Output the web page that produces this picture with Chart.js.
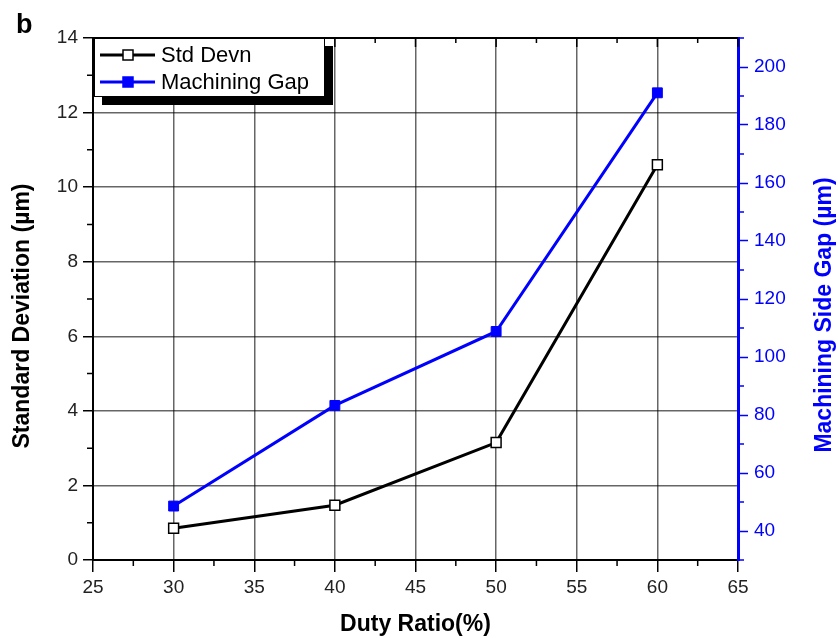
<!DOCTYPE html>
<html>
<head>
<meta charset="utf-8">
<script src="https://cdn.jsdelivr.net/npm/chart.js@4.4.1/dist/chart.umd.min.js"></script>
<style>
  body { margin: 0; background: #fff; }
  #wrap { width: 838px; height: 638px; position: relative; }
</style>
</head>
<body>
<div id="wrap"><canvas id="chart"></canvas></div>
<script>
// data
const dutyRatio = [30, 40, 50, 60];
const stdDevn = [0.85, 1.47, 3.15, 10.6];
const machiningGap = [48.6, 83.3, 108.8, 191.1];

// axis ticks
const xTicks = [25, 30, 35, 40, 45, 50, 55, 60, 65];
const xMinorTicks = [27.5, 32.5, 37.5, 42.5, 47.5, 52.5, 57.5, 62.5];
const leftTicks = [0, 2, 4, 6, 8, 10, 12, 14];
const leftMinorTicks = [1, 3, 5, 7, 9, 11, 13];
const rightTicks = [40, 60, 80, 100, 120, 140, 160, 180, 200];
const rightMinorTicks = [30, 50, 70, 90, 110, 130, 150, 170, 190, 210];

const BLUE = '#0000ff';
const FONT = "'Liberation Sans', Arial, Helvetica, sans-serif";
Chart.defaults.font.family = FONT;

// Extra drawing: minor ticks, top frame, titles, legend
const decor = {
    id: 'decor',
    afterDraw(chart) {
        const ctx = chart.ctx;
        const area = chart.chartArea;
        const x = chart.scales.x, y = chart.scales.y, y1 = chart.scales.y1;
        ctx.save();

        // top frame with inward ticks
        ctx.strokeStyle = '#000';
        ctx.lineWidth = 2;
        ctx.beginPath();
        ctx.moveTo(area.left, area.top);
        ctx.lineTo(area.right, area.top);
        ctx.stroke();
        ctx.lineWidth = 1.5;
        ctx.beginPath();
        xTicks.forEach(v => { const px = x.getPixelForValue(v); ctx.moveTo(px, area.top); ctx.lineTo(px, area.top + 9); });
        xMinorTicks.forEach(v => { const px = x.getPixelForValue(v); ctx.moveTo(px, area.top); ctx.lineTo(px, area.top + 5); });
        // bottom minor ticks
        xMinorTicks.forEach(v => { const px = x.getPixelForValue(v); ctx.moveTo(px, area.bottom); ctx.lineTo(px, area.bottom + 6); });
        // left minor ticks
        leftMinorTicks.forEach(v => { const py = y.getPixelForValue(v); ctx.moveTo(area.left, py); ctx.lineTo(area.left - 6, py); });
        ctx.stroke();
        // right minor ticks
        ctx.strokeStyle = BLUE;
        ctx.beginPath();
        rightMinorTicks.forEach(v => { const py = y1.getPixelForValue(v); ctx.moveTo(area.right, py); ctx.lineTo(area.right + 6, py); });
        ctx.stroke();

        // titles
        ctx.fillStyle = '#000';
        ctx.font = 'bold 27px ' + FONT;
        ctx.textAlign = 'left';
        ctx.textBaseline = 'alphabetic';
        ctx.fillText('b', 16, 33);

        ctx.font = 'bold 23px ' + FONT;
        ctx.textAlign = 'center';
        ctx.textBaseline = 'middle';
        ctx.fillText('Duty Ratio(%)', (area.left + area.right) / 2, 625);

        ctx.save();
        ctx.translate(23, 316);
        ctx.rotate(-Math.PI / 2);
        ctx.fillText('Standard Deviation (\u00b5m)', 0, 0);
        ctx.restore();

        ctx.save();
        ctx.fillStyle = BLUE;
        ctx.translate(825, 315);
        ctx.rotate(-Math.PI / 2);
        ctx.fillText('Machining Side Gap (\u00b5m)', 0, 0);
        ctx.restore();

        // legend box with shadow
        const bx = area.left + 1, by = area.top, bw = 231, bh = 59;
        ctx.fillStyle = '#000';
        ctx.fillRect(bx + 8, by + 8, bw, bh);
        ctx.fillStyle = '#fff';
        ctx.fillRect(bx, by, bw, bh);
        ctx.strokeStyle = '#000';
        ctx.lineWidth = 1;
        ctx.strokeRect(bx + 0.5, by + 0.5, bw - 1, bh - 1);

        const items = [
            { label: 'Std Devn', color: '#000', fill: '#fff', yy: by + 17 },
            { label: 'Machining Gap', color: BLUE, fill: BLUE, yy: by + 44 }
        ];
        items.forEach(it => {
            ctx.strokeStyle = it.color;
            ctx.lineWidth = 3;
            ctx.beginPath();
            ctx.moveTo(bx + 6, it.yy);
            ctx.lineTo(bx + 61, it.yy);
            ctx.stroke();
            ctx.fillStyle = it.fill;
            ctx.fillRect(bx + 29, it.yy - 5, 10, 10);
            ctx.lineWidth = 1.5;
            ctx.strokeRect(bx + 29, it.yy - 5, 10, 10);
            ctx.fillStyle = '#000';
            ctx.font = '22px ' + FONT;
            ctx.textAlign = 'left';
            ctx.textBaseline = 'middle';
            ctx.fillText(it.label, bx + 67, it.yy + 1);
        });

        ctx.restore();
    }
};

const gridColor = (lo, hi) => c => (c.tick && c.tick.value > lo && c.tick.value < hi) ? 'rgba(0,0,0,0.6)' : 'rgba(0,0,0,0)';

new Chart(document.getElementById('chart'), {
    type: 'line',
    data: {
        datasets: [
            {
                label: 'Std Devn',
                data: dutyRatio.map((d, i) => ({ x: d, y: stdDevn[i] })),
                borderColor: '#000',
                backgroundColor: '#fff',
                borderWidth: 3,
                pointStyle: 'rect',
                pointRadius: 7,
                pointBorderWidth: 1.5,
                pointBorderColor: '#000',
                pointBackgroundColor: '#fff',
                yAxisID: 'y'
            },
            {
                label: 'Machining Gap',
                data: dutyRatio.map((d, i) => ({ x: d, y: machiningGap[i] })),
                borderColor: BLUE,
                backgroundColor: BLUE,
                borderWidth: 3,
                pointStyle: 'rect',
                pointRadius: 7,
                pointBorderWidth: 1,
                pointBorderColor: BLUE,
                pointBackgroundColor: BLUE,
                yAxisID: 'y1'
            }
        ]
    },
    options: {
        responsive: true,
        maintainAspectRatio: false,
        animation: false,
        layout: { padding: { top: 38, left: 0, right: 0, bottom: 0 } },
        plugins: { legend: { display: false }, tooltip: { enabled: false } },
        scales: {
            x: {
                type: 'linear',
                min: 25,
                max: 65,
                afterBuildTicks: s => { s.ticks = xTicks.map(v => ({ value: v })); },
                afterFit: s => { s.height = 78; },
                grid: { color: gridColor(25, 65), lineWidth: 1.5, tickLength: 12, tickColor: '#000', tickWidth: 1.5 },
                border: { color: '#000', width: 2 },
                ticks: { color: '#222', font: { size: 19 }, padding: 4, maxRotation: 0 }
            },
            y: {
                position: 'left',
                min: 0,
                max: 14,
                afterBuildTicks: s => { s.ticks = leftTicks.map(v => ({ value: v })); },
                afterFit: s => { s.width = 93; },
                grid: { color: gridColor(0, 14), lineWidth: 1.5, tickLength: 10, tickColor: '#000', tickWidth: 1.5 },
                border: { color: '#000', width: 2 },
                ticks: { color: '#222', font: { size: 19 }, padding: 5 }
            },
            y1: {
                position: 'right',
                min: 30,
                max: 210,
                afterBuildTicks: s => { s.ticks = rightTicks.map(v => ({ value: v })); },
                afterFit: s => { s.width = 100; },
                grid: { drawOnChartArea: false, tickLength: 10, tickColor: BLUE, tickWidth: 1.5 },
                border: { color: BLUE, width: 3 },
                ticks: { color: BLUE, font: { size: 19 }, padding: 6 }
            }
        }
    },
    plugins: [decor]
});
</script>
</body>
</html>
